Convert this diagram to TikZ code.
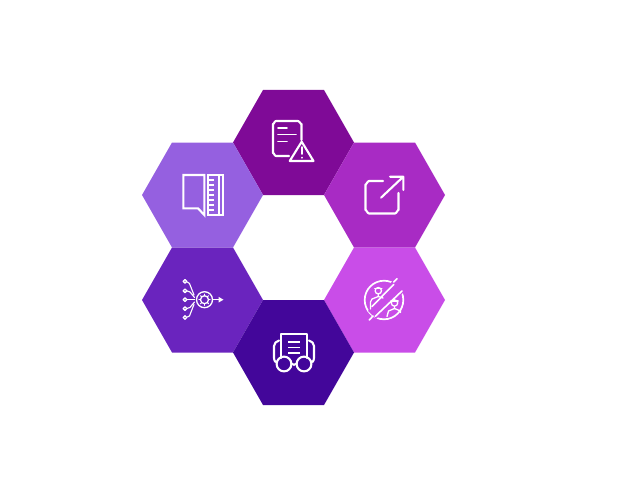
\documentclass[tikz,border=0pt]{standalone}
\tikzset{
  hexa/.style={fill=#1,draw=none},
  icon/.style={draw=white,line width=2.1pt,line join=round,line cap=round},
  thin icon/.style={draw=white,line width=1.3pt,line join=round,line cap=round},
}
\definecolor{hexTop}{HTML}{7F0A97}
\definecolor{hexUL}{HTML}{9560E0}
\definecolor{hexUR}{HTML}{A82BC4}
\definecolor{hexLL}{HTML}{6A24BE}
\definecolor{hexLR}{HTML}{C94DE8}
\definecolor{hexBot}{HTML}{43069A}
\newcommand{\hexat}[3]{\fill[hexa=#3] (#1-60.5,#2) -- (#1-30.5,#2-52.5) -- (#1+30.5,#2-52.5) -- (#1+60.5,#2) -- (#1+30.5,#2+52.5) -- (#1-30.5,#2+52.5) -- cycle;}
\begin{document}
\begin{tikzpicture}[x=1pt,y=-1pt]
\useasboundingbox (0,0) rectangle (620,500);
\hexat{293.5}{142.5}{hexTop}
\hexat{202.5}{195}{hexUL}
\hexat{384.5}{195}{hexUR}
\hexat{202.5}{300}{hexLL}
\hexat{384.5}{300}{hexLR}
\hexat{293.5}{352.5}{hexBot}
% document + warning
\draw[icon] (289,156) -- (276,156) to[out=180,in=90,looseness=0.8] (273,153) -- (273,124) to[out=-90,in=180,looseness=0.8] (276,121) -- (298,121) to[out=0,in=-90,looseness=0.8] (301.5,124) -- (301.5,140);
\draw[icon,line width=1.8pt] (278,128) -- (287,128) (278,134.5) -- (296,134.5) (278,141.5) -- (287,141.5);
\draw[icon] (301.7,141.7) -- (313.5,161) -- (289.7,161) -- cycle;
\draw[icon,line width=1.8pt] (301.7,147) -- (301.7,154) (301.7,157.6) -- (301.7,157.8);
% book + ruler
\draw[icon,line cap=butt,line join=miter] (198,208.3) -- (183.3,208.3) -- (183.3,175) -- (204.3,175) -- (204.3,215) -- cycle;
\draw[icon,line cap=butt,line join=miter] (208.2,175) rectangle (223.3,215);
\draw[icon,line cap=butt] (219,175) -- (219,215);
\foreach \yy in {180,185,190,195,200,205,210}
  \draw[thin icon,line cap=butt,line width=1.8pt] (208.2,\yy) -- (213.5,\yy);
% external link
\draw[icon] (383,181) -- (369,181) to[out=180,in=-90,looseness=0.8] (365.5,184.5) -- (365.5,210) to[out=90,in=180,looseness=0.8] (369,213.5) -- (395,213.5) to[out=0,in=90,looseness=0.8] (398.5,210) -- (398.5,193);
\draw[icon] (381,197.7) -- (403.3,176.7) (390,176.7) -- (403.3,176.7) -- (403.3,190);
% neural chip
\draw[thin icon] (204.5,299.7) circle (8);
\draw[thin icon] (204.5,299.7) circle (4);
\foreach \a in {0,45,...,315}
  \draw[thin icon,line width=1pt] (204.5,299.7) ++(\a:4) -- ++(\a:1.7);
\foreach \yy in {281.3,290.8,299.7,308.6,317.5}
  \draw[thin icon] (185,\yy) circle (1.8);
\draw[thin icon,line width=1.1pt] (187.3,282) -- (189.5,283.5) -- (194,295);
\draw[thin icon,line width=1.1pt] (187.3,291) -- (190,292) -- (194.5,297.5);
\draw[thin icon,line width=1.1pt] (187.3,299.7) -- (194.5,299.7);
\draw[thin icon,line width=1.1pt] (187.3,308.4) -- (190,307.4) -- (194.5,302);
\draw[thin icon,line width=1.1pt] (187.3,317) -- (189.5,315.9) -- (194,304.4);
\draw[thin icon] (212.5,299.7) -- (219,299.7);
\fill[white] (218.5,296.8) -- (223.5,299.7) -- (218.5,302.6) -- cycle;
% no-people circle
\draw[thin icon,line width=1.7pt] (384,300) circle (19.3);
\fill[hexLR] (368,311) -- (376,319) -- (406,290) -- (394,279) -- cycle;
\draw[thin icon,line width=1.6pt] (372,306.5) -- (393.7,284.5) (375.3,316.3) -- (402,291);
\draw[thin icon,line width=1.6pt] (393.7,282) -- (397,278.7) (369.3,320) -- (373,316);
\draw[thin icon] (378.3,290.7) circle (3.2);
\draw[thin icon] (374.7,288.7) -- (381.9,288.7);
\draw[thin icon] (378.3,294) -- (378.3,296.5) -- (372,299) -- (370.5,302) -- (370.5,309);
\draw[thin icon] (378.3,296.5) -- (383,298);
\draw[thin icon] (394.5,303) circle (3.2);
\draw[thin icon] (390.9,301) -- (398.1,301);
\draw[thin icon] (394.5,306.3) -- (394.5,308.5) -- (388.5,311) -- (387,316.5);
\draw[thin icon] (394.5,308.5) -- (400.5,311) -- (400.5,312.5);
% glasses + paper
\draw[icon] (281,358) -- (281,334.3) -- (306.7,334.3) -- (306.7,358);
\draw[thin icon,line width=1.8pt,line cap=butt] (288.3,342) -- (300,342) (288.3,347.5) -- (300,347.5) (288.3,353) -- (300,353);
\draw[icon] (284,364) circle (7.4) (304,364) circle (7.4);
\draw[icon] (291.4,363.5) to[out=-60,in=-120] (296.6,363.5);
\draw[icon] (275.5,362) to[out=180,in=-90,looseness=0.5] (274,358) -- (274,346) to[out=90,in=200] (279,340.5);
\draw[icon] (312.5,362) to[out=0,in=-90,looseness=0.5] (314,358) -- (314,346) to[out=90,in=-20] (309,340.5);
\end{tikzpicture}
\end{document}
